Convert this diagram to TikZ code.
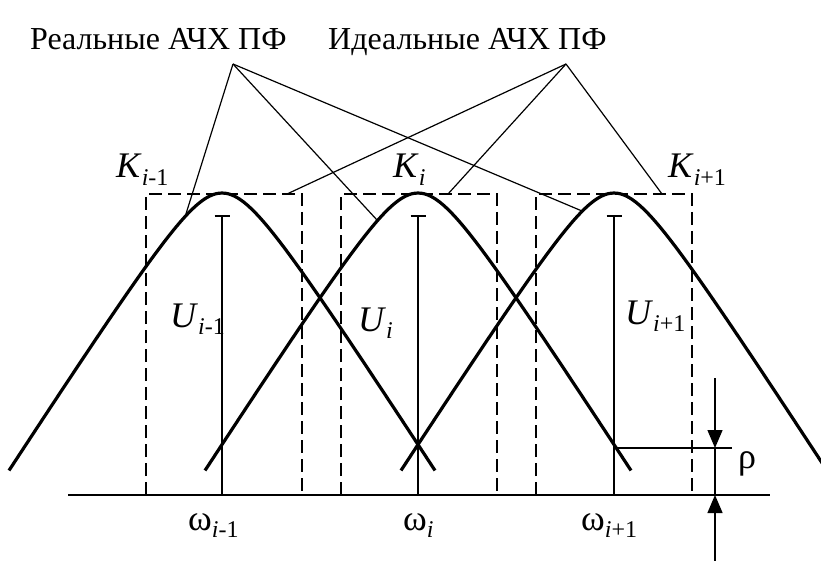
\documentclass[tikz,border=0pt]{standalone}
\usepackage{fontspec}
\setmainfont{Liberation Serif}
\usetikzlibrary{arrows.meta}
\newcommand\idx[1]{\raisebox{-0.22em}{\fontsize{24}{24}\selectfont #1}}

\begin{document}
\begin{tikzpicture}[
  x=1pt, y=-1pt,
  font=\fontsize{36}{36}\selectfont,
  bell/.style={line width=3.2pt, line join=round},
  frame/.style={line width=2.6pt, dash pattern=on 13pt off 6pt},
  stem/.style={line width=1.6pt, -{Bar[width=15pt]}},
  lead/.style={line width=1.2pt},
  axis/.style={line width=2.2pt},
  gap/.style={line width=1.4pt},
  tip/.style={gap, -{Triangle[length=18pt, width=15pt]}},
  lab/.style={inner sep=0pt, anchor=base west}
]
\path[use as bounding box] (0,0) rectangle (821,561);
\clip (0,0) rectangle (821,561);
% ----- axis, ideal pass bands and stems -----
\draw[axis] (68,495) -- (770,495);
\foreach \l/\r in {146/302, 341/497, 536/692}{\draw[frame] (\l,495) rectangle (\r,194);}
\foreach \c in {222,418,614}{\draw[stem] (\c,495) -- (\c,215);}
% ----- real pass bands -----
\foreach \c in {222,418,614}{
  \draw[bell] plot[domain=-213:213, samples=101, smooth]
    ({\c+\x}, {193+1.55*(10*sqrt((\x/10)*(\x/10)+13.84)-37.2)});
}
% ----- labels -----
\node[lab, font=\fontsize{32}{32}\selectfont] (real)  at (30,50)  {Реальные АЧХ ПФ};
\node[lab, font=\fontsize{32}{32}\selectfont] (ideal) at (328,50) {Идеальные АЧХ ПФ};
\node[lab] (Kl) at (116,178) {\textit{K}\idx{\textit{i}-1}};
\node[lab] (Km) at (393,178) {\textit{K}\idx{\textit{i}}};
\node[lab] (Kr) at (668,178) {\textit{K}\idx{\textit{i}+1}};
\node[lab] (Ul) at (170,327) {\textit{U}\idx{\textit{i}-1}};
\node[lab] (Um) at (358,331) {\textit{U}\idx{\textit{i}}};
\node[lab] (Ur) at (625,324) {\textit{U}\idx{\textit{i}+1}};
\node[lab] (wl) at (188,530) {ω\idx{\textit{i}-1}};
\node[lab] (wm) at (403,530) {ω\idx{\textit{i}}};
\node[lab] (wr) at (581,530) {ω\idx{\textit{i}+1}};
\node[lab] (rho) at (738,468) {ρ};
% ----- leaders from the two captions -----
\coordinate (pr) at (233,64);
\coordinate (pi) at (566,64);
\coordinate (rl) at (185,217);
\coordinate (rm) at (377,220);
\coordinate (rr) at (582,211);
\coordinate (il) at (287,194);
\coordinate (im) at (448,194);
\coordinate (ir) at (662,194);
\foreach \a/\b in {pr/rl, pr/rm, pr/rr, pi/il, pi/im, pi/ir}{\draw[lead] (\a) -- (\b);}
% ----- level rho -----
\coordinate (rs) at (614,448);
\coordinate (re) at (732,448);
\coordinate (ut) at (715,378);
\coordinate (um) at (715,448);
\coordinate (lm) at (715,495);
\coordinate (lb) at (715,561);
\draw[gap] (rs) -- (re);
\draw[tip] (ut) -- (um);
\draw[gap] (um) -- (lm);
\draw[tip] (lb) -- (lm);
\end{tikzpicture}
\end{document}
